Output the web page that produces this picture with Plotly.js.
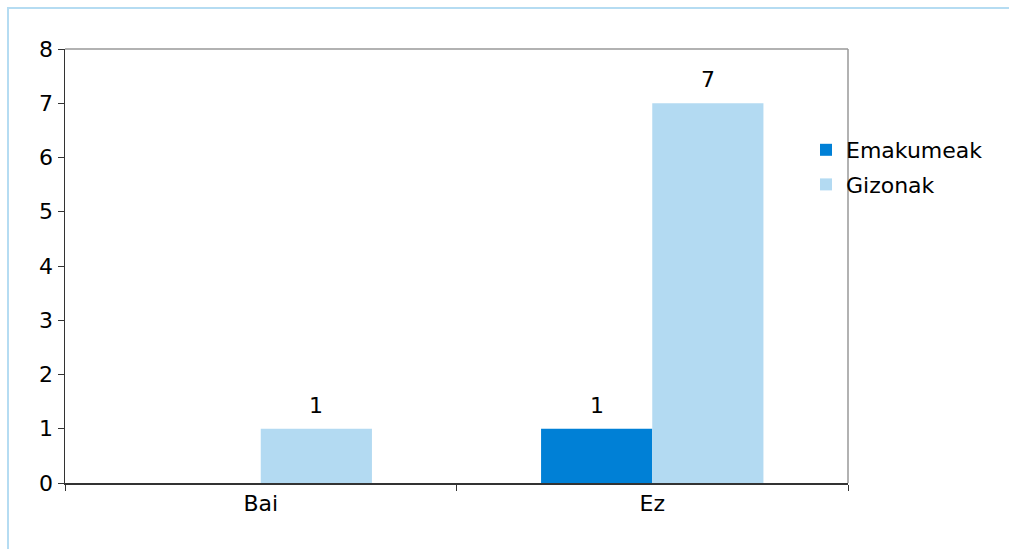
<!DOCTYPE html>
<html>
<head>
<meta charset="utf-8">
<script src="https://cdn.plot.ly/plotly-3.0.1.min.js"></script>
<style>
html,body{margin:0;padding:0;background:#fff;}
#wrap{position:relative;width:1009px;height:549px;overflow:hidden;}
#frame{position:absolute;left:7px;top:7px;width:1100px;height:700px;border:2px solid #b5dcf2;box-sizing:border-box;pointer-events:none;}
#chart{position:absolute;left:0;top:0;width:1009px;height:549px;}
</style>
</head>
<body>
<div id="wrap">
<div id="chart"></div>
<div id="frame"></div>
</div>
<script>
const categories = ['Bai', 'Ez'];
const seriesNames = ['Emakumeak', 'Gizonak'];
const emakumeak = [0, 1];
const gizonak = [1, 7];
const yTicks = [0, 1, 2, 3, 4, 5, 6, 7, 8];

const font = {family: 'Verdana, "DejaVu Sans", sans-serif', size: 22, color: '#000'};
const bargap = 0.432;
const series = [emakumeak, gizonak];
const colors = ['#0080d6', '#b3daf2'];

const traces = series.map((vals, i) => ({
  type: 'bar', name: seriesNames[i], x: categories, y: vals,
  marker: {color: colors[i]}, legendgroup: 'g' + i
}));

// value labels placed above each bar via the axis scales
const barW = (1 - bargap) / series.length;
const annotations = [];
series.forEach((vals, i) => {
  const off = -(1 - bargap) / 2 + barW * (i + 0.5);
  vals.forEach((v, j) => {
    if (!v) return;
    annotations.push({x: j + off, y: v, xref: 'x', yref: 'y', text: String(v),
      showarrow: false, yanchor: 'bottom', yshift: 9, font: font});
  });
});

const layout = {
  width: 1009, height: 549,
  margin: {l: 65, r: 161, t: 49, b: 66, pad: 0, autoexpand: false},
  paper_bgcolor: '#fff', plot_bgcolor: '#fff',
  font: font,
  barmode: 'group', bargap: bargap, bargroupgap: 0,
  showlegend: true,
  legend: {xref: 'container', yref: 'container', x: 806 / 1009, xanchor: 'left',
           y: 1 - 129 / 549, yanchor: 'top', font: font, traceorder: 'grouped',
           bgcolor: 'rgba(0,0,0,0)', tracegroupgap: 3, itemwidth: 30},
  xaxis: {type: 'category', showgrid: false, zeroline: false,
          showline: true, linecolor: '#333', linewidth: 1.5,
          ticks: 'outside', tickson: 'boundaries', ticklen: 6, tickcolor: '#333',
          tickfont: font, fixedrange: true},
  yaxis: {range: [0, 8], tickvals: yTicks, showgrid: false, zeroline: false,
          showline: true, linecolor: '#333', linewidth: 1.5,
          ticks: 'outside', ticklen: 6, tickcolor: '#333',
          tickfont: font, fixedrange: true},
  annotations: annotations,
  shapes: [
    {type: 'line', xref: 'paper', yref: 'paper', x0: 0, x1: 1, y0: 1, y1: 1,
     line: {color: '#999', width: 1.5}},
    {type: 'line', xref: 'paper', yref: 'paper', x0: 1, x1: 1, y0: 0, y1: 1,
     line: {color: '#999', width: 1.5}}
  ]
};

Plotly.newPlot('chart', traces, layout, {displayModeBar: false, staticPlot: true});
</script>
</body>
</html>
